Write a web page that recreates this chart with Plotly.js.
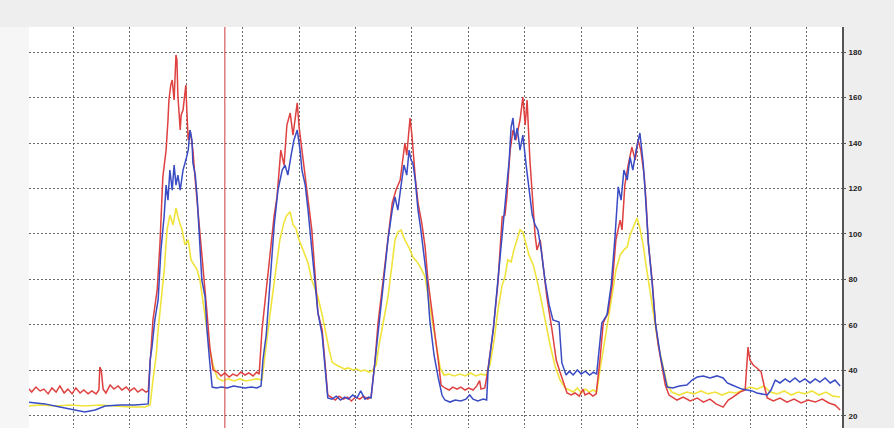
<!DOCTYPE html>
<html>
<head>
<meta charset="utf-8">
<script src="https://cdn.plot.ly/plotly-3.0.1.min.js"></script>
<style>html,body{margin:0;padding:0;background:#eeeeee;}#chart{width:894px;height:428px;}</style>
</head>
<body>
<div id="chart"></div>
<script>
// Time axis in hours (gridline every 12 h), values in sensor units
const redX = [-9.7,-8.9,-8.0,-7.1,-6.3,-5.4,-4.6,-3.7,-2.9,-2.0,-1.2,-0.3,0.5,1.4,2.2,3.1,3.9,4.8,5.4,5.6,5.9,6.3,6.9,7.8,8.6,9.5,10.3,11.2,12.0,12.9,13.7,14.6,15.4,15.9,
  16.3,16.9,17.8,18.4,19.0,19.7,20.1,20.3,20.7,21.0,21.4,21.6,21.8,22.0,22.2,22.7,22.9,23.3,23.7,23.9,24.1,24.4,24.8,25.2,25.4,25.9,26.5,26.9,27.6,28.0,28.4,29.0,29.7,
  30.6,31.4,32.2,33.1,33.9,34.8,35.6,36.5,37.3,38.2,39.0,39.5,
  40.1,41.0,41.8,42.7,43.3,44.1,44.8,45.4,46.1,46.7,47.6,48.0,48.6,49.3,49.9,50.7,51.4,52.0,52.9,53.5,54.1,
  54.8,55.7,56.5,57.4,58.3,59.1,60.0,60.9,61.7,62.6,63.3,
  64.1,64.8,65.9,66.9,67.8,68.6,69.5,70.5,70.9,71.6,72.0,72.7,73.3,74.1,74.8,75.4,76.3,76.9,77.6,78.2,
  79.0,79.9,80.7,81.6,82.4,83.3,84.1,85.0,85.8,86.4,86.7,87.5,
  88.0,89.3,90.3,91.2,91.8,92.2,92.9,93.5,94.1,95.0,95.6,96.1,96.5,97.1,97.8,98.2,98.6,99.3,99.9,100.7,101.8,102.7,103.5,104.4,105.0,
  105.9,106.7,107.6,108.4,108.8,109.7,110.5,111.2,
  112.0,112.7,113.7,114.6,115.4,116.3,116.7,117.3,118.0,118.8,119.5,120.1,120.7,121.4,121.8,122.3,123.1,123.8,124.4,125.1,125.9,126.7,
  128.4,129.7,131.2,132.7,134.0,135.4,136.7,138.2,139.3,140.3,141.8,142.9,143.3,143.5,143.9,144.6,145.4,146.3,146.9,147.6,148.9,150.3,151.8,153.3,154.8,156.3,157.8,159.3,160.7,162.0,163.1];
const redY = [32.3,30.5,32.7,31.0,31.8,29.7,32.3,30.5,33.2,30.1,31.8,29.7,32.3,30.1,31.4,29.7,31.0,29.7,31.4,41.5,40.0,31.8,30.1,33.6,31.8,33.2,31.4,32.7,31.0,32.3,30.5,31.8,30.5,31.0,
  43.3,62.2,75.4,96.0,125.0,136.9,150.1,158.9,165.5,167.7,158.9,169.9,178.7,176.5,161.1,145.7,152.3,154.5,161.1,165.5,154.5,141.3,145.7,139.1,136.9,123.7,110.0,101.8,87.2,75.0,65.3,50.3,40.2,
  39.3,37.6,38.9,37.1,38.4,37.6,39.3,38.0,38.9,37.6,39.3,38.4,
  57.8,75.4,88.6,108.3,116.3,136.9,130.3,147.9,153.2,143.5,157.6,147.0,136.9,125.9,116.3,101.8,82.0,65.3,57.8,43.3,29.2,
  28.3,27.0,28.7,27.4,28.3,26.6,28.3,27.4,28.7,27.4,28.3,
  43.3,60.9,79.8,98.7,113.6,119.3,123.7,140.0,134.7,151.0,143.5,125.0,113.6,104.8,94.3,79.8,65.3,57.8,44.6,33.6,
  32.3,31.4,32.7,31.8,32.7,31.4,32.3,31.4,33.2,35.5,31.8,32.3,
  38.0,57.8,78.5,107.5,108.3,116.3,136.9,145.7,141.3,150.1,160.2,147.9,158.9,132.5,110.5,99.6,93.0,97.4,86.4,72.3,57.8,44.6,39.3,33.6,30.1,
  29.2,30.1,28.7,31.8,29.2,30.1,28.7,29.7,
  44.6,60.9,65.3,77.6,97.4,106.1,101.8,121.5,130.3,138.2,132.5,141.3,136.9,125.9,114.9,96.0,79.8,60.9,51.2,42.4,33.6,29.2,
  27.0,28.3,26.6,27.9,26.1,27.4,25.3,23.9,27.0,28.3,30.5,31.4,44.6,50.3,44.6,42.4,41.1,39.3,33.6,27.9,26.6,27.9,26.1,27.4,25.7,27.0,26.1,27.4,25.7,24.8,22.6];

const blueX = [-9.7,-6.1,-2.9,0.3,2.4,4.6,6.7,9.9,13.1,15.9,
  16.3,16.7,17.3,18.0,18.6,19.3,19.7,20.1,20.5,21.0,21.4,21.8,22.2,22.7,23.3,23.9,24.4,24.8,25.2,25.4,25.9,26.3,26.9,27.3,28.0,28.4,29.0,29.5,
  30.4,31.5,32.7,34.0,35.3,36.5,37.8,39.0,39.9,
  40.3,41.0,41.8,42.7,43.5,44.4,45.0,45.6,46.3,46.9,47.6,48.2,48.6,49.3,49.9,50.7,51.4,52.0,52.9,53.5,54.1,
  55.0,55.9,56.8,57.7,58.5,59.4,60.3,61.1,62.0,62.8,63.3,
  64.1,64.8,65.9,66.9,67.8,68.4,69.0,69.7,70.3,70.9,71.4,71.8,72.2,72.7,73.3,73.9,74.6,75.2,75.8,76.7,77.6,78.4,79.0,
  80.1,81.2,82.4,83.5,84.3,85.0,86.0,87.2,87.9,
  88.2,89.3,90.3,91.0,91.6,92.2,92.7,93.1,93.5,93.9,94.4,95.0,95.6,96.3,96.9,97.6,98.2,98.8,99.5,100.3,101.2,102.0,103.3,103.9,104.8,
  105.5,106.3,107.2,108.0,108.9,109.8,110.6,111.3,
  112.0,112.4,113.5,114.4,115.2,115.9,116.5,117.1,117.8,118.4,119.0,119.7,120.5,121.2,121.6,122.3,123.1,123.8,124.9,125.9,126.3,
  127.5,128.9,130.5,131.6,132.7,134.0,135.4,136.9,138.2,139.1,140.1,141.2,142.2,143.3,144.4,145.4,146.5,147.6,148.4,149.3,150.3,151.4,152.4,153.5,154.5,155.6,156.7,157.8,158.8,159.9,161.0,162.0,163.1];
const blueY = [26.1,25.3,23.9,22.6,21.7,22.6,24.4,24.8,24.8,25.3,
  44.6,50.3,62.2,71.0,93.0,108.3,121.5,114.9,128.1,119.3,130.3,121.5,125.9,119.3,128.1,132.5,136.9,145.7,141.3,131.2,125.9,116.3,94.3,79.8,72.3,57.8,43.3,32.7,
  32.3,32.7,32.3,33.2,32.7,32.3,32.7,32.3,33.2,
  44.6,55.6,79.8,104.0,119.3,128.1,130.3,125.9,134.7,141.3,145.7,136.9,128.1,121.5,110.5,93.0,75.4,65.3,55.6,42.4,27.9,
  27.4,28.7,27.0,28.3,27.4,29.2,27.9,31.0,27.4,28.3,27.9,
  42.4,57.8,77.6,97.4,110.5,116.3,110.5,121.5,130.3,125.9,136.9,132.5,131.2,123.7,110.5,101.8,90.8,79.8,62.2,46.8,36.7,29.2,27.0,
  26.1,27.0,26.6,27.4,29.2,27.4,26.6,27.4,27.0,
  40.2,57.8,79.8,95.2,108.3,119.3,132.5,147.0,151.0,141.3,146.6,136.9,143.5,130.3,119.3,108.3,104.0,101.8,93.0,79.8,68.8,62.2,61.3,43.3,38.0,
  39.7,38.0,40.2,38.4,39.7,38.0,39.3,38.4,
  51.2,60.9,64.4,77.6,98.7,120.7,114.9,128.1,123.7,133.8,128.1,136.9,144.4,131.2,119.3,96.0,78.5,60.9,45.9,35.8,32.7,
  32.3,33.2,33.6,35.8,37.1,37.6,36.7,37.6,36.7,34.5,33.6,32.7,31.8,31.4,31.0,30.1,29.7,29.2,31.4,35.8,34.5,36.3,34.9,36.7,34.9,36.3,34.5,36.3,34.9,36.7,34.5,35.8,33.2];

const yellowX = [-9.7,-7.1,-3.9,-0.7,2.4,5.6,8.8,12.0,15.2,16.3,
  16.9,17.6,18.0,18.6,19.3,19.9,20.5,21.2,21.8,22.4,23.1,23.7,24.4,25.0,25.6,26.3,26.9,27.8,28.4,29.0,29.7,30.6,
  31.7,32.9,34.2,35.4,36.7,37.9,39.0,40.1,
  40.7,41.4,42.2,43.1,43.9,44.8,45.4,46.1,46.7,47.3,48.0,48.6,49.3,49.9,50.7,52.0,52.9,53.5,54.4,55.0,
  55.9,56.8,57.7,58.5,59.4,60.3,61.1,62.0,62.8,63.5,
  64.4,65.0,65.6,66.3,66.9,67.8,68.4,69.0,69.7,70.3,70.9,71.6,72.2,73.3,74.1,74.8,75.4,76.3,77.1,78.0,78.8,
  79.9,81.0,82.2,83.3,84.5,85.6,86.7,87.8,
  88.6,89.5,90.3,91.2,91.8,92.4,93.1,93.7,94.4,95.0,95.6,96.3,96.9,97.8,98.6,99.5,100.3,101.4,102.4,103.5,104.6,
  105.5,106.3,107.2,108.0,108.9,109.8,110.6,111.3,
  112.0,112.9,113.7,114.6,115.4,116.3,117.1,117.8,118.4,119.3,119.9,120.5,121.2,121.8,122.7,123.6,124.4,125.3,126.3,127.3,
  128.9,130.5,132.0,133.5,135.0,136.5,138.0,139.5,141.0,142.4,143.9,145.4,146.9,148.2,149.7,151.2,152.7,154.2,155.6,157.1,158.6,160.1,161.6,163.1];
const yellowY = [24.4,24.8,24.4,24.8,24.4,24.8,24.4,23.9,23.9,24.8,
  35.8,46.8,57.8,71.0,84.2,101.8,108.3,104.0,111.4,106.1,101.8,95.2,97.4,88.6,86.4,84.2,79.8,66.6,57.8,49.0,42.4,36.7,
  35.4,36.3,35.4,36.3,35.4,35.8,36.3,35.8,
  46.8,57.8,71.0,86.4,97.4,105.3,108.3,109.7,104.0,102.6,97.4,94.3,90.8,87.2,79.8,72.3,64.4,57.8,49.0,43.7,
  42.4,41.5,40.6,41.1,40.2,40.6,39.7,40.2,39.3,39.7,
  42.4,51.2,57.8,66.6,72.3,87.2,97.4,100.9,101.8,98.3,96.0,93.0,89.9,87.2,84.2,81.1,73.2,62.2,51.2,41.1,38.0,
  38.4,37.6,38.4,37.6,38.9,37.6,38.4,38.0,
  42.4,53.4,66.6,77.6,81.1,88.6,87.7,93.0,97.4,101.8,100.9,95.2,90.8,86.4,79.8,71.0,62.2,51.2,42.4,35.8,32.3,
  31.4,30.5,32.3,30.1,31.8,30.5,31.4,30.5,
  40.2,51.2,62.2,73.2,84.2,90.8,93.0,94.3,99.6,104.0,107.0,102.6,95.2,86.4,73.2,62.2,51.2,42.4,33.6,30.5,
  29.2,30.5,29.7,31.0,29.7,30.5,29.2,30.5,30.1,31.4,32.7,31.8,33.2,30.5,29.7,31.0,29.2,30.5,29.7,31.0,29.2,30.5,28.7,28.3];

const yTicks = [20, 40, 60, 80, 100, 120, 140, 160, 180];
const yTickLabels = ['20', '40', '60', '80', '100', '120', '140', '160', '180'];
const cursorX = 32.2;
const xRange = [-9.47, 163.5];
const yRange = [14.7, 191];

const traces = [
  {x: yellowX, y: yellowY, type: 'scatter', mode: 'lines', line: {color: '#f0e43c', width: 1.6}, hoverinfo: 'skip'},
  {x: redX, y: redY, type: 'scatter', mode: 'lines', line: {color: '#df4040', width: 1.5}, hoverinfo: 'skip'},
  {x: blueX, y: blueY, type: 'scatter', mode: 'lines', line: {color: '#3a4cc4', width: 1.5}, hoverinfo: 'skip'}
];

const layout = {
  width: 894, height: 428,
  margin: {l: 29, r: 52, t: 27, b: 0, pad: 0},
  paper_bgcolor: '#eeeeee',
  plot_bgcolor: '#ffffff',
  showlegend: false,
  xaxis: {
    range: xRange, tick0: 0, dtick: 12, showticklabels: false, ticks: '',
    showgrid: true, gridcolor: '#6a6a6a', gridwidth: 1, griddash: '2px,2px',
    zeroline: false, showline: false, fixedrange: true
  },
  yaxis: {
    range: yRange, side: 'right', tickvals: yTicks, ticktext: yTickLabels,
    showgrid: true, gridcolor: '#6a6a6a', gridwidth: 1, griddash: '2px,2px',
    zeroline: false, showline: true, linecolor: '#555555', linewidth: 2,
    ticks: 'outside', ticklen: 2, tickcolor: '#555555', ticklabelstandoff: 1,
    tickfont: {family: 'Liberation Sans, Arial, sans-serif', size: 8, color: '#222222', weight: 'bold'},
    fixedrange: true
  },
  shapes: [
    {type: 'rect', xref: 'paper', yref: 'paper', x0: -0.0357, x1: 0, y0: 0, y1: 1, fillcolor: '#f6f6f6', line: {width: 0}, layer: 'below'},
    {type: 'line', xref: 'x', yref: 'paper', x0: cursorX, x1: cursorX, y0: 0, y1: 1, line: {color: '#cf3a3a', width: 1}}
  ]
};

Plotly.newPlot('chart', traces, layout, {staticPlot: true, displayModeBar: false});
</script>
</body>
</html>
